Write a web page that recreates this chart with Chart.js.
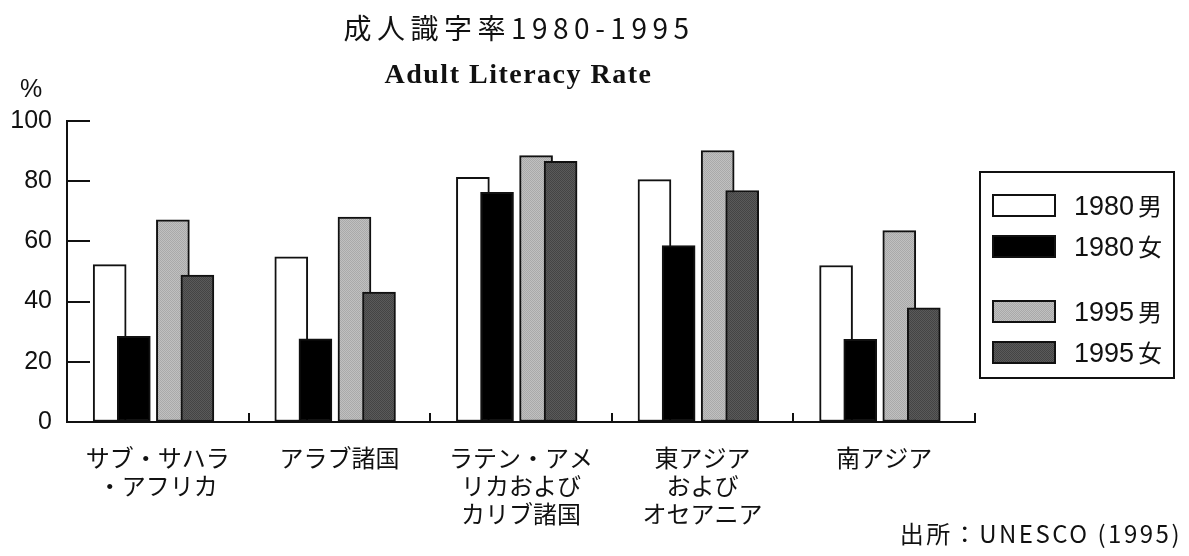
<!DOCTYPE html>
<html lang="ja">
<head>
<meta charset="utf-8">
<title>成人識字率1980-1995</title>
<script src="https://cdn.jsdelivr.net/npm/chart.js@4.4.0/dist/chart.umd.min.js"></script>
<style>
  body { margin: 0; background: #fff; }
  #wrap { position: relative; width: 1189px; height: 556px; overflow: hidden; color: #111; font-family: 'Noto Sans CJK JP', sans-serif; }
  #chart { position: absolute; left: 0; top: 0; }
  .title { position: absolute; left: 0; top: 13px; width: 1038px; text-align: center; font-size: 28px; line-height: 28px; letter-spacing: 5.5px; }
  .subtitle { position: absolute; left: 0; top: 60px; width: 1037px; text-align: center; font-family: 'Liberation Serif', serif; font-weight: bold; font-size: 28px; line-height: 28px; letter-spacing: 1.5px; }
  .unit { position: absolute; left: 20px; top: 75px; font-family: 'Liberation Sans', sans-serif; font-size: 25px; line-height: 26px; }
  .source { position: absolute; right: 7px; top: 521px; font-size: 24px; line-height: 24px; letter-spacing: 2.5px; }
  #legend { position: absolute; left: 979px; top: 171px; width: 196px; height: 208px; box-sizing: border-box; border: 2px solid #111; }
  #legend .sw { position: absolute; left: 11px; width: 64px; height: 23px; box-sizing: border-box; border: 2px solid #111; }
  #legend .lb { position: absolute; left: 93px; height: 23px; line-height: 23px; white-space: nowrap; }
  #legend .yr { font-family: 'Liberation Sans', sans-serif; font-size: 27px; }
  #legend .sx { font-size: 24px; margin-left: 4px; }
</style>
</head>
<body>
<div id="wrap">
  <canvas id="chart" width="1189" height="556"></canvas>
  <div class="title">成人識字率1980-1995</div>
  <div class="subtitle">Adult Literacy Rate</div>
  <div class="unit">%</div>
  <div id="legend"></div>
  <div class="source">出所：UNESCO (1995)</div>
</div>
<script>
// 地域（複数行ラベル）
const categories = [
    ['サブ・サハラ', '・アフリカ'],
    ['アラブ諸国'],
    ['ラテン・アメ', 'リカおよび', 'カリブ諸国'],
    ['東アジア', 'および', 'オセアニア'],
    ['南アジア']
];

// 成人識字率 (%)
const male1980   = [52.3, 54.9, 81.3, 80.5, 52.0];
const female1980 = [28.5, 27.6, 76.3, 58.6, 27.5];
const male1995   = [67.2, 68.1, 88.5, 90.2, 63.6];
const female1995 = [48.8, 43.2, 86.6, 76.9, 37.9];

const yTicks = [0, 20, 40, 60, 80, 100];

const seriesNames = ['1980 男', '1980 女', '1995 男', '1995 女'];
const seriesValues = [male1980, female1980, male1995, female1995];

// 見た目の設定
const seriesShades = [['#ffffff', '#ffffff'], ['#000000', '#000000'], ['#a9a9a9', '#c0c0c0'], ['#444444', '#5a5a5a']];
const seriesOffset = [-0.265, -0.132, 0.083, 0.218];   // 各地域の中心からのずれ
const seriesOrder = [1, 0, 1, 0];                        // 女を男の上に重ねる
const legendTop = [21, 62, 127, 168];
const ink = '#111';

// 網点風の塗り
function dither(a, b) {
    const c = document.createElement('canvas');
    c.width = 2; c.height = 2;
    const g = c.getContext('2d');
    g.fillStyle = a; g.fillRect(0, 0, 2, 2);
    g.fillStyle = b; g.fillRect(1, 0, 1, 1); g.fillRect(0, 1, 1, 1);
    return g.createPattern(c, 'repeat');
}

// 凡例（HTML）
const legendEl = document.getElementById('legend');
seriesNames.forEach((name, k) => {
    const [a, b] = seriesShades[k];
    const [yr, sx] = name.split(' ');
    const sw = document.createElement('div');
    sw.className = 'sw';
    sw.style.top = legendTop[k] + 'px';
    sw.style.background = `repeating-conic-gradient(${a} 0 25%, ${b} 0 50%) 0 0 / 2px 2px`;
    const lb = document.createElement('div');
    lb.className = 'lb';
    lb.style.top = (legendTop[k] - 1) + 'px';
    lb.innerHTML = `<span class="yr">${yr}</span><span class="sx">${sx}</span>`;
    legendEl.appendChild(sw);
    legendEl.appendChild(lb);
});

// 軸の内向き目盛りと地域の区切り
const axisMarks = {
    id: 'axisMarks',
    afterDatasetsDraw(chart) {
        const { ctx, chartArea, scales: { x, y } } = chart;
        ctx.save();
        ctx.strokeStyle = ink;
        ctx.lineWidth = 2;
        y.ticks.forEach(t => {
            const py = Math.round(y.getPixelForValue(t.value));
            ctx.beginPath();
            ctx.moveTo(chartArea.left, py);
            ctx.lineTo(chartArea.left + 23, py);
            ctx.stroke();
        });
        categories.forEach((c, i) => {
            const px = Math.round(x.getPixelForValue(i + 0.5));
            ctx.beginPath();
            ctx.moveTo(px, chartArea.bottom);
            ctx.lineTo(px, chartArea.bottom - 9);
            ctx.stroke();
        });
        ctx.restore();
    }
};

new Chart(document.getElementById('chart'), {
    type: 'bar',
    data: {
        datasets: seriesValues.map((vals, k) => ({
            label: seriesNames[k],
            data: vals.map((v, i) => ({ x: i + seriesOffset[k], y: v })),
            backgroundColor: dither(seriesShades[k][0], seriesShades[k][1]),
            borderColor: ink,
            borderWidth: 2,
            borderSkipped: false,
            barThickness: 33,
            grouped: false,
            order: seriesOrder[k]
        }))
    },
    options: {
        responsive: false,
        animation: false,
        layout: { padding: { top: 121, left: 0, right: 214, bottom: 0 } },
        plugins: { legend: { display: false }, tooltip: { enabled: false } },
        scales: {
            x: {
                type: 'linear',
                min: -0.5,
                max: categories.length - 0.5,
                offset: false,
                afterFit: s => { s.height = 134; },
                afterBuildTicks: s => { s.ticks = categories.map((c, i) => ({ value: i })); },
                grid: { drawOnChartArea: false, drawTicks: false, offset: false },
                border: { color: ink, width: 2 },
                ticks: {
                    autoSkip: false,
                    maxRotation: 0,
                    padding: 22,
                    color: ink,
                    font: { family: "'Noto Sans CJK JP', sans-serif", size: 24, lineHeight: 28 / 24 },
                    callback: v => categories[v]
                }
            },
            y: {
                min: 0,
                max: 100,
                afterFit: s => { s.width = 67; },
                afterBuildTicks: s => { s.ticks = yTicks.map(v => ({ value: v })); },
                grid: { drawOnChartArea: false, drawTicks: false },
                border: { color: ink, width: 2 },
                ticks: {
                    padding: 15,
                    color: ink,
                    font: { family: "'Liberation Sans', sans-serif", size: 25 }
                }
            }
        }
    },
    plugins: [axisMarks]
});
</script>
</body>
</html>
